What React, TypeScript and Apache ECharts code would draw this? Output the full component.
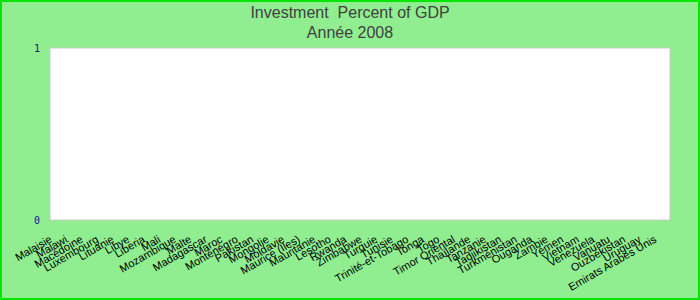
import React, { useEffect, useRef } from "react";
import * as echarts from "echarts";

const titleLines = ["Investment  Percent of GDP", "Année 2008"];

const countries = [
  "Malaisie", "Malawi", "Macédoine", "Luxembourg", "Lituanie", "Libye", "Liberia", "Mali",
  "Mozambique", "Malte", "Madagascar", "Maroc", "Monténégro", "Pakistan", "Mongolie", "Moldavie",
  "Maurice (Iles)", "Mauritanie", "Lesotho", "Rwanda", "Zimbabwe", "Turquie", "Tunisie",
  "Trinité-et-Tobago", "Tonga", "Togo", "Timor Oriental", "Thaïlande", "Tanzanie", "Tadjikistan",
  "Turkménistan", "Ouganda", "Zambie", "Yémen", "Vietnam", "Venezuela", "Vanuatu", "Ouzbékistan",
  "Uruguay", "Emirats Arabes Unis",
];

// No values are shown in the reference chart for 2008
const investmentValues: (number | null)[] = [];

const yMin = 0;
const yMax = 1;
const yInterval = 1;

export default function App() {
  const ref = useRef<HTMLDivElement>(null);

  useEffect(() => {
    if (!ref.current) return;
    const chart = echarts.init(ref.current, undefined, { renderer: "svg" });
    chart.setOption({
      animation: false,
      backgroundColor: "#90ee90",
      title: {
        text: titleLines.join("\n"),
        left: "center",
        top: 2,
        padding: 0,
        textStyle: {
          fontFamily: "Liberation Sans, Arial, sans-serif",
          fontSize: 16,
          fontWeight: "normal",
          color: "#404040",
          lineHeight: 20,
        },
      },
      graphic: [
        {
          type: "rect",
          shape: { x: 1, y: 1, width: 698, height: 298 },
          style: { fill: "none", stroke: "#00e600", lineWidth: 2 },
          silent: true,
        },
      ],
      grid: {
        left: 50,
        right: 30,
        top: 48,
        bottom: 80,
        show: true,
        backgroundColor: "#ffffff",
        borderColor: "#c8c8c8",
        borderWidth: 1,
      },
      xAxis: {
        type: "category",
        data: countries,
        boundaryGap: true,
        axisLine: { show: false },
        axisTick: { show: false },
        splitLine: { show: false },
        axisLabel: {
          interval: 0,
          rotate: 30,
          margin: 14,
          padding: [0, 8, 0, 0],
          fontFamily: "Liberation Sans, Arial, sans-serif",
          fontSize: 11,
          color: "#000000",
        },
      },
      yAxis: {
        type: "value",
        min: yMin,
        max: yMax,
        interval: yInterval,
        axisLine: { show: false },
        axisTick: { show: false },
        splitLine: { show: false },
        axisLabel: {
          margin: 10,
          fontFamily: "DejaVu Sans Mono, monospace",
          fontSize: 10,
          color: "#1414a0",
        },
      },
      series: [
        {
          type: "bar",
          name: "Investment",
          data: investmentValues,
        },
      ],
    });
    return () => chart.dispose();
  }, []);

  return (
    <div
      ref={ref}
      style={{ position: "fixed", left: 0, top: 0, width: 700, height: 300 }}
    />
  );
}
